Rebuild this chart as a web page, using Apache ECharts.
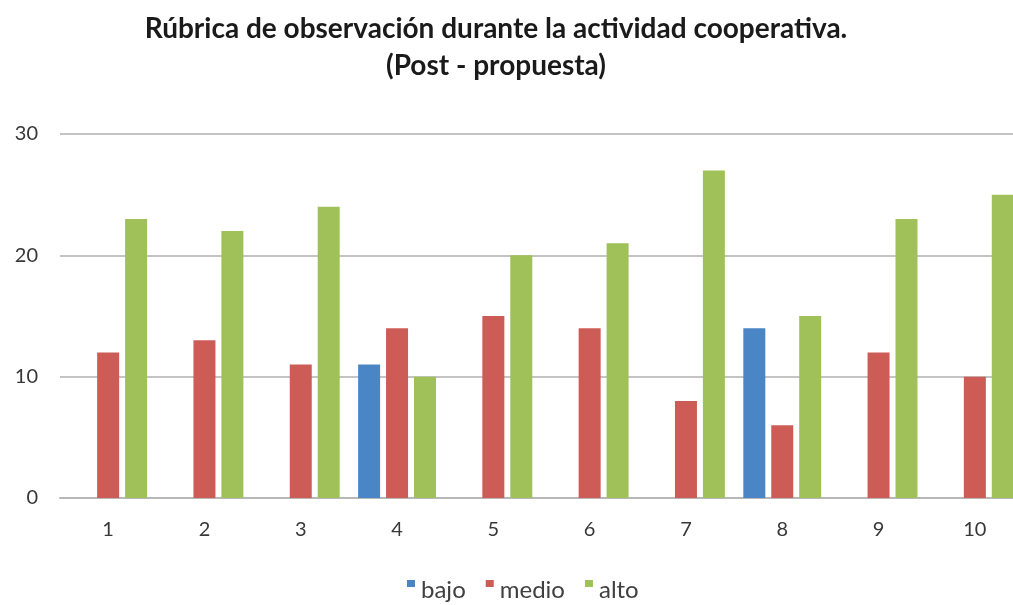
<!DOCTYPE html>
<html><head><meta charset="utf-8">
<script src="https://cdn.jsdelivr.net/npm/echarts@6/dist/echarts.min.js"></script>
<style>html,body{margin:0;padding:0;background:#fff;overflow:hidden;width:1013px;height:605px}#c{width:1030px;height:605px}</style>
</head><body><div id="c"></div>
<script>
var categories = ['1','2','3','4','5','6','7','8','9','10'];
var bajo  = [0, 0, 0, 11, 0, 0, 0, 14, 0, 0];
var medio = [12, 13, 11, 14, 15, 14, 8, 6, 12, 10];
var alto  = [23, 22, 24, 10, 20, 21, 27, 15, 23, 25];
var yTicks = [0, 10, 20, 30];

var chart = echarts.init(document.getElementById('c'));
var font = 'Lato';
var topSquare = 'path://M0,0L8,0L8,7L0,7Z M4,20L4.01,20L4,20.01Z';
function ser(name, data, color){
  return {name:name, type:'bar', data:data.map(function(v){return v===0?null:v;}),
    barWidth:22, barGap:'27%', itemStyle:{color:color}};
}
chart.setOption({
  animation:false,
  title:{text:'Rúbrica de observación durante la actividad cooperativa.\n(Post - propuesta)',
    left:496, textAlign:'center', top:10, padding:0,
    textStyle:{fontFamily:font, fontWeight:'bold', fontSize:28, color:'#1a1a1a', lineHeight:37}},
  legend:{top:578, left:407, padding:0, itemWidth:8, itemHeight:21, itemGap:20,
    textStyle:{fontFamily:font, fontSize:24, color:'#404040', padding:[0,0,0,1]},
    data:[{name:'bajo',icon:topSquare},{name:'medio',icon:topSquare},{name:'alto',icon:topSquare}]},
  grid:{left:60, top:134, width:963, height:364, containLabel:false},
  xAxis:{type:'category', data:categories,
    axisLine:{lineStyle:{color:'#b8b8b8', width:2}}, axisTick:{show:false},
    axisLabel:{fontFamily:font, fontSize:20, color:'#383838', margin:22}},
  yAxis:{type:'value', min:yTicks[0], max:yTicks[yTicks.length-1], interval:10,
    axisLine:{show:false}, axisTick:{show:false},
    splitLine:{lineStyle:{color:'#c4c4c4', width:2}},
    axisLabel:{fontFamily:font, fontSize:20, color:'#383838', margin:22}},
  series:[ser('bajo', bajo, '#4A86C6'), ser('medio', medio, '#CD5C57'), ser('alto', alto, '#A0C15A')]
});
</script></body></html>
